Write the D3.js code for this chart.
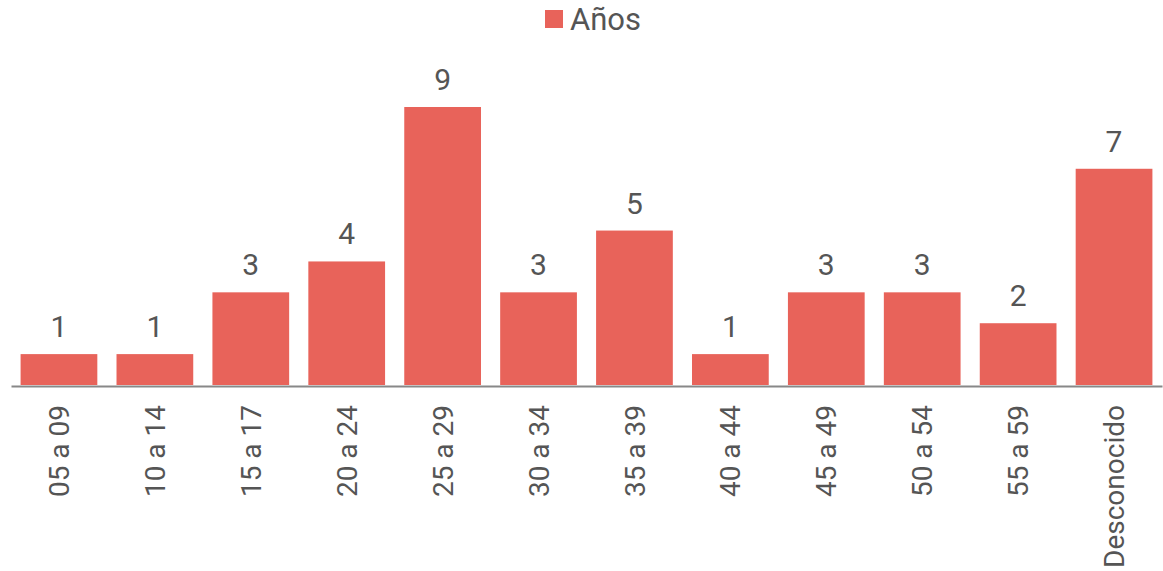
<!DOCTYPE html>
<html><head><meta charset="utf-8">
<script src="https://cdn.jsdelivr.net/npm/d3@7"></script>
<style>body{margin:0;background:#fff}svg{display:block}text{font-family:"Liberation Sans Narrow","Roboto",sans-serif;fill:#555}</style>
</head><body><svg id="c" width="1163" height="571"></svg>
<script>
const categories = ["05 a 09","10 a 14","15 a 17","20 a 24","25 a 29","30 a 34","35 a 39","40 a 44","45 a 49","50 a 54","55 a 59","Desconocido"];
const values = [1,1,3,4,9,3,5,1,3,3,2,7];
const seriesName = "Años";
const color = "#E8635A";

const svg = d3.select("#c");
const x = d3.scaleBand().domain(categories).range([11, 1162]).paddingInner(0.2).paddingOuter(0.1);
const y = d3.scaleLinear().domain([0, 9]).range([385, 107]);

svg.append("g").selectAll("rect").data(values).join("rect")
  .attr("x", (d,i)=>x(categories[i])).attr("width", x.bandwidth())
  .attr("y", d=>y(d)).attr("height", d=>y(0)-y(d)).attr("fill", color);

svg.append("g").selectAll("text").data(values).join("text")
  .attr("x", (d,i)=>x(categories[i])+x.bandwidth()/2).attr("y", d=>y(d)-17)
  .attr("text-anchor","middle").style("font-size","30px").text(d=>d);

const ax = svg.append("g").attr("transform","translate(0,386)")
  .call(d3.axisBottom(x).tickSize(0).tickPadding(0));
ax.select(".domain").attr("stroke","#888").attr("stroke-width",2);
ax.selectAll(".tick text").attr("transform","rotate(-90)")
  .attr("x",-19).attr("y",0).attr("dy","0.36em").attr("text-anchor","end")
  .style("font-size","28px").style("fill","#555");

const lg = svg.append("g");
lg.append("rect").attr("x",545).attr("y",10).attr("width",18).attr("height",18).attr("fill",color);
lg.append("text").attr("x",570).attr("y",30).style("font-size","31px").text(seriesName);
</script></body></html>
